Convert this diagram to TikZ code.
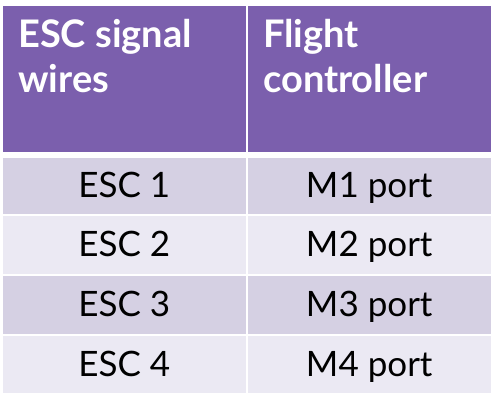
\documentclass[tikz,border=0pt]{standalone}
\usepackage{fontspec}
\setmainfont{Lato}
\definecolor{hdr}{RGB}{123,95,173}
\definecolor{rowA}{RGB}{213,208,227}
\definecolor{rowB}{RGB}{235,233,243}
\tikzset{
  hcell/.style={fill=hdr, draw=none},
  acell/.style={fill=rowA, draw=none},
  bcell/.style={fill=rowB, draw=none},
  htext/.style={anchor=base west, inner sep=0pt, text=white, font=\fontsize{38}{44}\selectfont\bfseries},
  btext/.style={anchor=base, inner sep=0pt, text=black, font=\fontsize{35}{40}\selectfont}
}
\begin{document}
\begin{tikzpicture}[x=1pt,y=-1pt]
\useasboundingbox (0,0) rectangle (496,411);
% header
\fill[hcell] (3,6) rectangle (245.5,152);
\fill[hcell] (247.5,6) rectangle (491,152);
% rows
\fill[acell] (3,158) rectangle (245.5,214);
\fill[acell] (247.5,158) rectangle (491,214);
\fill[bcell] (3,216) rectangle (245.5,274);
\fill[bcell] (247.5,216) rectangle (491,274);
\fill[acell] (3,276) rectangle (245.5,334);
\fill[acell] (247.5,276) rectangle (491,334);
\fill[bcell] (3,336) rectangle (245.5,393);
\fill[bcell] (247.5,336) rectangle (491,393);
% header text
\node[htext] (h1a) at (18,48) {ESC signal};
\node[htext] (h1b) at (18,93) {wires};
\node[htext] (h2a) at (263,48) {Flight};
\node[htext] (h2b) at (263,93) {controller};
% body text
\node[btext] (e1) at (124.25,198) {ESC 1};
\node[btext] (m1) at (369.25,198) {M1 port};
\node[btext] (e2) at (124.25,257) {ESC 2};
\node[btext] (m2) at (369.25,257) {M2 port};
\node[btext] (e3) at (124.25,317) {ESC 3};
\node[btext] (m3) at (369.25,317) {M3 port};
\node[btext] (e4) at (124.25,376.5) {ESC 4};
\node[btext] (m4) at (369.25,376.5) {M4 port};
\end{tikzpicture}
\end{document}
